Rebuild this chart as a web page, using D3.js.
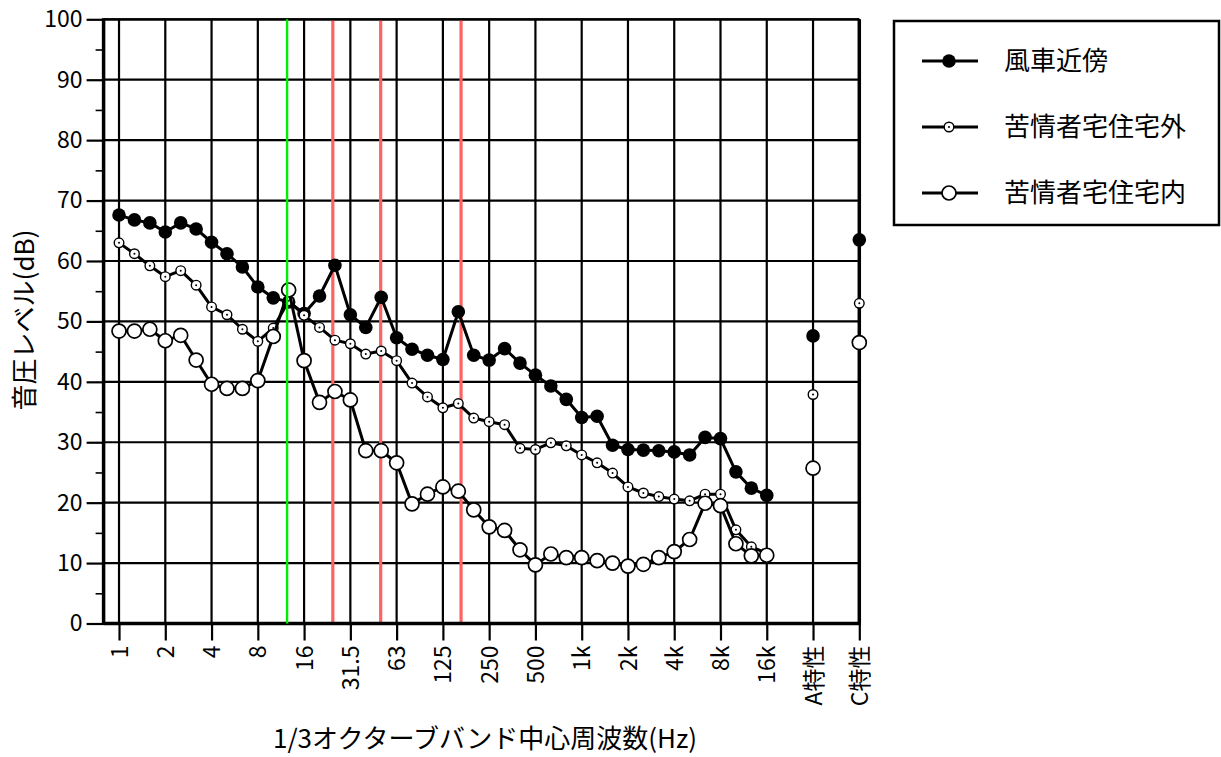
<!DOCTYPE html>
<html>
<head>
<meta charset="utf-8">
<script src="https://cdn.jsdelivr.net/npm/d3@7"></script>
<style>
  body { margin: 0; background: #fff; }
  svg text { font-family: "Noto Sans CJK JP", "Noto Sans", sans-serif; fill: #000; }
</style>
</head>
<body>
<svg id="chart" width="1221" height="757"></svg>
<script>
// 1/3 octave band centre frequencies (1 Hz .. 16 kHz)
const bands = ['1','1.25','1.6','2','2.5','3.15','4','5','6.3','8','10','12.5','16','20','25','31.5',
  '40','50','63','80','100','125','160','200','250','315','400','500','630','800',
  '1k','1.25k','1.6k','2k','2.5k','3.15k','4k','5k','6.3k','8k','10k','12.5k','16k'];

// tick labels on the x axis (octave bands + weighted values)
const tickLabels = ['1','2','4','8','16','31.5','63','125','250','500','1k','2k','4k','8k','16k','A特性','C特性'];

const seriesNames = ['風車近傍', '苦情者宅住宅外', '苦情者宅住宅内'];

// 風車近傍
const nearTurbine = [67.6, 66.8, 66.3, 64.8, 66.3, 65.3, 63.1, 61.2, 59.0, 55.7, 53.9, 53.2, 51.3, 54.2, 59.3,
  51.1, 49.0, 54.0, 47.3, 45.4, 44.4, 43.7, 51.6, 44.4, 43.6, 45.5, 43.1, 41.1, 39.3, 37.1,
  34.1, 34.3, 29.5, 28.8, 28.7, 28.6, 28.4, 27.9, 30.8, 30.6, 25.1, 22.4, 21.2];
// 苦情者宅住宅外
const houseOutside = [63.0, 61.2, 59.2, 57.4, 58.4, 56.0, 52.4, 51.1, 48.7, 46.7, 48.9, 53.4, 51.0, 49.0, 46.9,
  46.3, 44.6, 45.1, 43.5, 39.8, 37.5, 35.7, 36.4, 34.0, 33.4, 32.9, 29.0, 28.8, 29.9, 29.4,
  27.9, 26.6, 24.9, 22.6, 21.6, 21.0, 20.6, 20.3, 21.4, 21.4, 15.5, 12.7, 11.6];
// 苦情者宅住宅内
const houseInside = [48.4, 48.4, 48.7, 46.8, 47.7, 43.6, 39.6, 38.9, 38.9, 40.2, 47.5, 55.2, 43.5, 36.6, 38.4,
  37.0, 28.6, 28.6, 26.6, 19.8, 21.4, 22.6, 21.9, 18.8, 16.0, 15.4, 12.2, 9.7, 11.5, 10.9,
  10.9, 10.4, 10.0, 9.5, 9.8, 10.9, 11.9, 13.9, 19.9, 19.5, 13.2, 11.2, 11.3];

// A特性 / C特性 overall levels for each series
const aWeighted = [47.6, 37.9, 25.7];
const cWeighted = [63.5, 53.0, 46.5];

// marker frequencies (Hz) for the coloured vertical lines
const greenFreqs = [12.4];
const redFreqs = [24.6, 50.4, 168];

const yTicks = [0, 10, 20, 30, 40, 50, 60, 70, 80, 90, 100];

const svg = d3.select('#chart');

const plotLeft = 103.6, plotRight = 859.3, plotTop = 19.3, plotBottom = 623.5;

// x: band index, 1 Hz = 0, A特性 = 45, C特性 = 48
const x = d3.scaleLinear().domain([-1, 48]).range([plotLeft, plotRight]);
const y = d3.scaleLinear().domain([0, 100]).range([plotBottom, plotTop]);

const bandIndex = f => 3 * Math.log2(f);
const tickIdx = tickLabels.map((d, i) => i * 3);

// grid
const grid = svg.append('g').attr('stroke', '#000').attr('stroke-width', 2.2);
grid.selectAll('line.h')
  .data(yTicks.filter(d => d > 0))
  .enter().append('line')
  .attr('x1', plotLeft).attr('x2', plotRight)
  .attr('y1', d => y(d)).attr('y2', d => y(d));
grid.selectAll('line.v')
  .data(tickIdx)
  .enter().append('line')
  .attr('x1', d => x(d)).attr('x2', d => x(d))
  .attr('y1', plotTop).attr('y2', plotBottom);

// red marker lines (under data)
svg.append('g').selectAll('line')
  .data(redFreqs)
  .enter().append('line')
  .attr('x1', d => x(bandIndex(d))).attr('x2', d => x(bandIndex(d)))
  .attr('y1', plotTop).attr('y2', plotBottom)
  .attr('stroke', '#ff6262').attr('stroke-width', 3.2);

// y axis ticks
const yAxis = svg.append('g')
  .attr('transform', 'translate(' + plotLeft + ',0)')
  .call(d3.axisLeft(y).tickValues(yTicks).tickSize(17).tickPadding(4));
yAxis.select('.domain').remove();
yAxis.selectAll('line').attr('stroke-width', 2.2);
yAxis.selectAll('text').attr('font-size', 23).style('font-family', '"Noto Sans CJK JP", sans-serif');

const yMinor = svg.append('g')
  .attr('transform', 'translate(' + plotLeft + ',0)')
  .call(d3.axisLeft(y).tickValues(d3.range(5, 100, 10)).tickSize(8).tickFormat(''));
yMinor.select('.domain').remove();
yMinor.selectAll('line').attr('stroke-width', 1.6);

// x axis ticks
const xAxis = svg.append('g')
  .attr('transform', 'translate(0,' + plotBottom + ')')
  .call(d3.axisBottom(x).tickValues(tickIdx).tickSize(17).tickFormat((d, i) => tickLabels[i]));
xAxis.select('.domain').remove();
xAxis.selectAll('line').attr('stroke-width', 2.2);
xAxis.selectAll('text')
  .attr('font-size', 23)
  .attr('text-anchor', 'end')
  .attr('y', 0).attr('dy', '0.35em')
  .attr('transform', 'translate(0,22) rotate(-90)');

// frame
const frame = svg.append('g').attr('stroke', '#000').attr('fill', 'none');
frame.append('line').attr('x1', plotLeft).attr('x2', plotRight).attr('y1', plotTop).attr('y2', plotTop).attr('stroke-width', 2.2);
frame.append('line').attr('x1', plotLeft).attr('x2', plotLeft).attr('y1', plotTop - 1).attr('y2', plotBottom + 1.5).attr('stroke-width', 3.5);
frame.append('line').attr('x1', plotLeft).attr('x2', plotRight + 1.5).attr('y1', plotBottom).attr('y2', plotBottom).attr('stroke-width', 3.5);
frame.append('line').attr('x1', plotRight).attr('x2', plotRight).attr('y1', plotTop).attr('y2', plotBottom).attr('stroke-width', 3.5);

// series
const allSeries = [nearTurbine, houseOutside, houseInside];
const line = d3.line().x((d, i) => x(i)).y(d => y(d));

function drawMarker(g, k) {
  if (k === 0) {
    g.append('circle').attr('r', 6.8).attr('fill', '#000');
  } else if (k === 1) {
    g.append('circle').attr('r', 4.8).attr('fill', '#fff').attr('stroke', '#000').attr('stroke-width', 1.4);
    g.append('circle').attr('r', 1).attr('fill', '#000');
  } else {
    g.append('circle').attr('r', 7).attr('fill', '#fff').attr('stroke', '#000').attr('stroke-width', 1.7);
  }
}

allSeries.forEach((vals, k) => {
  const g = svg.append('g');
  g.append('path')
    .datum(vals)
    .attr('d', line)
    .attr('fill', 'none')
    .attr('stroke', '#000')
    .attr('stroke-width', 3)
    .attr('stroke-linejoin', 'round');
  const pts = vals.map((v, i) => [i, v]).concat([[45, aWeighted[k]], [48, cWeighted[k]]]);
  g.selectAll('g.pt')
    .data(pts)
    .enter().append('g')
    .attr('transform', d => 'translate(' + x(d[0]) + ',' + y(d[1]) + ')')
    .each(function() { drawMarker(d3.select(this), k); });
});

// green marker line (over data)
svg.append('g').selectAll('line')
  .data(greenFreqs)
  .enter().append('line')
  .attr('x1', d => x(bandIndex(d))).attr('x2', d => x(bandIndex(d)))
  .attr('y1', plotTop).attr('y2', plotBottom)
  .attr('stroke', '#00ee00').attr('stroke-width', 2.4);

// axis titles
svg.append('text')
  .attr('x', 485).attr('y', 748)
  .attr('text-anchor', 'middle')
  .attr('font-size', 26)
  .text('1/3オクターブバンド中心周波数(Hz)');

svg.append('text')
  .attr('transform', 'translate(25,320) rotate(-90)')
  .attr('text-anchor', 'middle')
  .attr('dy', '0.35em')
  .attr('font-size', 26)
  .text('音圧レベル(dB)');

// legend
const legend = svg.append('g');
legend.append('rect')
  .attr('x', 894).attr('y', 21).attr('width', 325).attr('height', 204)
  .attr('fill', '#fff').attr('stroke', '#000').attr('stroke-width', 2.5);
const legendY = [61, 127, 193];
seriesNames.forEach((name, k) => {
  const row = legend.append('g').attr('transform', 'translate(0,' + legendY[k] + ')');
  row.append('line').attr('x1', 922).attr('x2', 978).attr('stroke', '#000').attr('stroke-width', 3);
  drawMarker(row.append('g').attr('transform', 'translate(949,0)'), k);
  row.append('text')
    .attr('x', 1004).attr('dy', '0.35em')
    .attr('font-size', 26)
    .text(name);
});
</script>
</body>
</html>
